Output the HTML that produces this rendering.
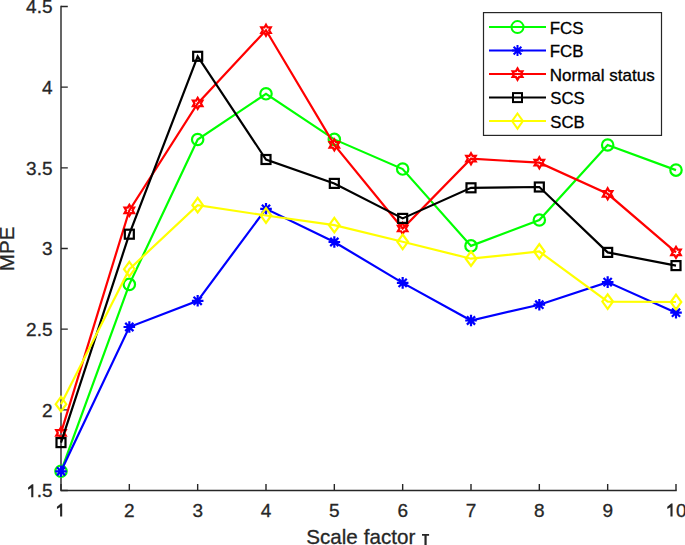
<!DOCTYPE html>
<html><head><meta charset="utf-8"><style>
html,body{margin:0;padding:0;background:#fff;width:685px;height:545px;overflow:hidden}
svg{display:block;font-family:"Liberation Sans",sans-serif}
text{stroke-width:0.3px;paint-order:stroke}
.a{stroke:#262626} .b{stroke:#000}
</style></head><body>
<svg width="685" height="545" viewBox="0 0 685 545">
<rect width="685" height="545" fill="#fff"/>
<path d="M61.0 6.5V490.5H676.0" fill="none" stroke="#262626" stroke-width="1.4" stroke-linecap="square"/>
<path d="M61.00 490.5V483.9M129.33 490.5V483.9M197.67 490.5V483.9M266.00 490.5V483.9M334.33 490.5V483.9M402.67 490.5V483.9M471.00 490.5V483.9M539.33 490.5V483.9M607.67 490.5V483.9M676.00 490.5V483.9M61.0 6.50H67.8M61.0 87.17H67.8M61.0 167.83H67.8M61.0 248.50H67.8M61.0 329.17H67.8M61.0 409.83H67.8M61.0 490.50H67.8" fill="none" stroke="#262626" stroke-width="1.4"/>
<text x="129.33" y="516.6" font-size="19" class="a" fill="#262626" text-anchor="middle">2</text>
<text x="197.67" y="516.6" font-size="19" class="a" fill="#262626" text-anchor="middle">3</text>
<text x="266.00" y="516.6" font-size="19" class="a" fill="#262626" text-anchor="middle">4</text>
<text x="334.33" y="516.6" font-size="19" class="a" fill="#262626" text-anchor="middle">5</text>
<text x="402.67" y="516.6" font-size="19" class="a" fill="#262626" text-anchor="middle">6</text>
<text x="471.00" y="516.6" font-size="19" class="a" fill="#262626" text-anchor="middle">7</text>
<text x="539.33" y="516.6" font-size="19" class="a" fill="#262626" text-anchor="middle">8</text>
<text x="607.67" y="516.6" font-size="19" class="a" fill="#262626" text-anchor="middle">9</text>
<path d="M62.20 503.40 L62.20 516.60 L60.10 516.60 L60.10 507.30 L56.95 508.90 L56.95 506.70 L60.85 503.40 Z" fill="#262626"/>
<text x="676.00" y="516.6" font-size="19" class="a" fill="#262626" text-anchor="middle"> 0</text>
<path d="M672.55 503.40 L672.55 516.60 L670.45 516.60 L670.45 507.30 L667.30 508.90 L667.30 506.70 L671.20 503.40 Z" fill="#262626"/>
<text x="52.5" y="13.35" font-size="19" class="a" fill="#262626" text-anchor="end">4.5</text>
<text x="52.5" y="94.02" font-size="19" class="a" fill="#262626" text-anchor="end">4</text>
<text x="52.5" y="174.68" font-size="19" class="a" fill="#262626" text-anchor="end">3.5</text>
<text x="52.5" y="255.35" font-size="19" class="a" fill="#262626" text-anchor="end">3</text>
<text x="52.5" y="336.02" font-size="19" class="a" fill="#262626" text-anchor="end">2.5</text>
<text x="52.5" y="416.68" font-size="19" class="a" fill="#262626" text-anchor="end">2</text>
<text x="52.5" y="497.35" font-size="19" class="a" fill="#262626" text-anchor="end"> .5</text>
<path d="M33.35 484.15 L33.35 497.35 L31.25 497.35 L31.25 488.05 L28.10 489.65 L28.10 487.45 L32.00 484.15 Z" fill="#262626"/>
<text x="306.2" y="544" font-size="20.6" class="a" fill="#262626">Scale</text>
<text x="363.85" y="544" font-size="20.6" class="a" fill="#262626">factor</text>
<path d="M422 534h7.1v1.8h-2.45V545h-2.2V535.8H422z" fill="#262626"/>
<text transform="translate(14.3,271.2) rotate(-90)" x="0" y="0" font-size="20.6" class="a" fill="#262626">MPE</text>
<polyline points="61.00,471.30 129.33,284.40 197.67,139.50 266.00,93.80 334.33,139.40 402.67,169.05 471.00,245.90 539.33,220.00 607.67,145.00 676.00,170.10" fill="none" stroke="#00ff00" stroke-width="2.2" stroke-miterlimit="10"/>
<circle cx="61.00" cy="471.30" r="5.7" fill="none" stroke="#00ff00" stroke-width="2.2"/>
<circle cx="129.33" cy="284.40" r="5.7" fill="none" stroke="#00ff00" stroke-width="2.2"/>
<circle cx="197.67" cy="139.50" r="5.7" fill="none" stroke="#00ff00" stroke-width="2.2"/>
<circle cx="266.00" cy="93.80" r="5.7" fill="none" stroke="#00ff00" stroke-width="2.2"/>
<circle cx="334.33" cy="139.40" r="5.7" fill="none" stroke="#00ff00" stroke-width="2.2"/>
<circle cx="402.67" cy="169.05" r="5.7" fill="none" stroke="#00ff00" stroke-width="2.2"/>
<circle cx="471.00" cy="245.90" r="5.7" fill="none" stroke="#00ff00" stroke-width="2.2"/>
<circle cx="539.33" cy="220.00" r="5.7" fill="none" stroke="#00ff00" stroke-width="2.2"/>
<circle cx="607.67" cy="145.00" r="5.7" fill="none" stroke="#00ff00" stroke-width="2.2"/>
<circle cx="676.00" cy="170.10" r="5.7" fill="none" stroke="#00ff00" stroke-width="2.2"/>
<polyline points="61.00,471.30 129.33,327.00 197.67,300.80 266.00,208.80 334.33,242.00 402.67,282.90 471.00,320.50 539.33,304.70 607.67,282.10 676.00,312.70" fill="none" stroke="#0000ff" stroke-width="2.2" stroke-miterlimit="10"/>
<path d="M55.20 471.30H66.80M61.00 465.50V477.10M56.90 467.20L65.10 475.40M56.90 475.40L65.10 467.20" fill="none" stroke="#0000ff" stroke-width="2.2"/>
<path d="M123.53 327.00H135.13M129.33 321.20V332.80M125.23 322.90L133.43 331.10M125.23 331.10L133.43 322.90" fill="none" stroke="#0000ff" stroke-width="2.2"/>
<path d="M191.87 300.80H203.47M197.67 295.00V306.60M193.57 296.70L201.77 304.90M193.57 304.90L201.77 296.70" fill="none" stroke="#0000ff" stroke-width="2.2"/>
<path d="M260.20 208.80H271.80M266.00 203.00V214.60M261.90 204.70L270.10 212.90M261.90 212.90L270.10 204.70" fill="none" stroke="#0000ff" stroke-width="2.2"/>
<path d="M328.53 242.00H340.13M334.33 236.20V247.80M330.23 237.90L338.43 246.10M330.23 246.10L338.43 237.90" fill="none" stroke="#0000ff" stroke-width="2.2"/>
<path d="M396.87 282.90H408.47M402.67 277.10V288.70M398.57 278.80L406.77 287.00M398.57 287.00L406.77 278.80" fill="none" stroke="#0000ff" stroke-width="2.2"/>
<path d="M465.20 320.50H476.80M471.00 314.70V326.30M466.90 316.40L475.10 324.60M466.90 324.60L475.10 316.40" fill="none" stroke="#0000ff" stroke-width="2.2"/>
<path d="M533.53 304.70H545.13M539.33 298.90V310.50M535.23 300.60L543.43 308.80M535.23 308.80L543.43 300.60" fill="none" stroke="#0000ff" stroke-width="2.2"/>
<path d="M601.87 282.10H613.47M607.67 276.30V287.90M603.57 278.00L611.77 286.20M603.57 286.20L611.77 278.00" fill="none" stroke="#0000ff" stroke-width="2.2"/>
<path d="M670.20 312.70H681.80M676.00 306.90V318.50M671.90 308.60L680.10 316.80M671.90 316.80L680.10 308.60" fill="none" stroke="#0000ff" stroke-width="2.2"/>
<polyline points="61.00,432.90 129.33,210.40 197.67,103.40 266.00,30.20 334.33,144.90 402.67,228.50 471.00,158.70 539.33,162.70 607.67,193.80 676.00,252.40" fill="none" stroke="#ff0000" stroke-width="2.2" stroke-miterlimit="10"/>
<polygon points="61.00,427.40 62.59,430.15 65.76,430.15 64.18,432.90 65.76,435.65 62.59,435.65 61.00,438.40 59.41,435.65 56.24,435.65 57.82,432.90 56.24,430.15 59.41,430.15" fill="none" stroke="#ff0000" stroke-width="2.2" stroke-miterlimit="10"/>
<polygon points="129.33,204.90 130.92,207.65 134.10,207.65 132.51,210.40 134.10,213.15 130.92,213.15 129.33,215.90 127.75,213.15 124.57,213.15 126.16,210.40 124.57,207.65 127.75,207.65" fill="none" stroke="#ff0000" stroke-width="2.2" stroke-miterlimit="10"/>
<polygon points="197.67,97.90 199.25,100.65 202.43,100.65 200.84,103.40 202.43,106.15 199.25,106.15 197.67,108.90 196.08,106.15 192.90,106.15 194.49,103.40 192.90,100.65 196.08,100.65" fill="none" stroke="#ff0000" stroke-width="2.2" stroke-miterlimit="10"/>
<polygon points="266.00,24.70 267.59,27.45 270.76,27.45 269.18,30.20 270.76,32.95 267.59,32.95 266.00,35.70 264.41,32.95 261.24,32.95 262.82,30.20 261.24,27.45 264.41,27.45" fill="none" stroke="#ff0000" stroke-width="2.2" stroke-miterlimit="10"/>
<polygon points="334.33,139.40 335.92,142.15 339.10,142.15 337.51,144.90 339.10,147.65 335.92,147.65 334.33,150.40 332.75,147.65 329.57,147.65 331.16,144.90 329.57,142.15 332.75,142.15" fill="none" stroke="#ff0000" stroke-width="2.2" stroke-miterlimit="10"/>
<polygon points="402.67,223.00 404.25,225.75 407.43,225.75 405.84,228.50 407.43,231.25 404.25,231.25 402.67,234.00 401.08,231.25 397.90,231.25 399.49,228.50 397.90,225.75 401.08,225.75" fill="none" stroke="#ff0000" stroke-width="2.2" stroke-miterlimit="10"/>
<polygon points="471.00,153.20 472.59,155.95 475.76,155.95 474.18,158.70 475.76,161.45 472.59,161.45 471.00,164.20 469.41,161.45 466.24,161.45 467.82,158.70 466.24,155.95 469.41,155.95" fill="none" stroke="#ff0000" stroke-width="2.2" stroke-miterlimit="10"/>
<polygon points="539.33,157.20 540.92,159.95 544.10,159.95 542.51,162.70 544.10,165.45 540.92,165.45 539.33,168.20 537.75,165.45 534.57,165.45 536.16,162.70 534.57,159.95 537.75,159.95" fill="none" stroke="#ff0000" stroke-width="2.2" stroke-miterlimit="10"/>
<polygon points="607.67,188.30 609.25,191.05 612.43,191.05 610.84,193.80 612.43,196.55 609.25,196.55 607.67,199.30 606.08,196.55 602.90,196.55 604.49,193.80 602.90,191.05 606.08,191.05" fill="none" stroke="#ff0000" stroke-width="2.2" stroke-miterlimit="10"/>
<polygon points="676.00,246.90 677.59,249.65 680.76,249.65 679.18,252.40 680.76,255.15 677.59,255.15 676.00,257.90 674.41,255.15 671.24,255.15 672.82,252.40 671.24,249.65 674.41,249.65" fill="none" stroke="#ff0000" stroke-width="2.2" stroke-miterlimit="10"/>
<polyline points="61.00,442.60 129.33,234.20 197.67,56.30 266.00,159.50 334.33,183.40 402.67,218.40 471.00,187.80 539.33,187.00 607.67,252.40 676.00,265.60" fill="none" stroke="#000000" stroke-width="2.2" stroke-miterlimit="10"/>
<rect x="56.50" y="438.10" width="9.00" height="9.00" fill="none" stroke="#000000" stroke-width="2.2"/>
<rect x="124.83" y="229.70" width="9.00" height="9.00" fill="none" stroke="#000000" stroke-width="2.2"/>
<rect x="193.17" y="51.80" width="9.00" height="9.00" fill="none" stroke="#000000" stroke-width="2.2"/>
<rect x="261.50" y="155.00" width="9.00" height="9.00" fill="none" stroke="#000000" stroke-width="2.2"/>
<rect x="329.83" y="178.90" width="9.00" height="9.00" fill="none" stroke="#000000" stroke-width="2.2"/>
<rect x="398.17" y="213.90" width="9.00" height="9.00" fill="none" stroke="#000000" stroke-width="2.2"/>
<rect x="466.50" y="183.30" width="9.00" height="9.00" fill="none" stroke="#000000" stroke-width="2.2"/>
<rect x="534.83" y="182.50" width="9.00" height="9.00" fill="none" stroke="#000000" stroke-width="2.2"/>
<rect x="603.17" y="247.90" width="9.00" height="9.00" fill="none" stroke="#000000" stroke-width="2.2"/>
<rect x="671.50" y="261.10" width="9.00" height="9.00" fill="none" stroke="#000000" stroke-width="2.2"/>
<polyline points="61.00,404.20 129.33,269.20 197.67,205.20 266.00,215.50 334.33,225.20 402.67,241.80 471.00,258.70 539.33,251.50 607.67,301.60 676.00,302.00" fill="none" stroke="#ffff00" stroke-width="2.2" stroke-miterlimit="10"/>
<polygon points="61.00,396.90 66.30,404.20 61.00,411.50 55.70,404.20" fill="none" stroke="#ffff00" stroke-width="2.2" stroke-miterlimit="10"/>
<polygon points="129.33,261.90 134.63,269.20 129.33,276.50 124.03,269.20" fill="none" stroke="#ffff00" stroke-width="2.2" stroke-miterlimit="10"/>
<polygon points="197.67,197.90 202.97,205.20 197.67,212.50 192.37,205.20" fill="none" stroke="#ffff00" stroke-width="2.2" stroke-miterlimit="10"/>
<polygon points="266.00,208.20 271.30,215.50 266.00,222.80 260.70,215.50" fill="none" stroke="#ffff00" stroke-width="2.2" stroke-miterlimit="10"/>
<polygon points="334.33,217.90 339.63,225.20 334.33,232.50 329.03,225.20" fill="none" stroke="#ffff00" stroke-width="2.2" stroke-miterlimit="10"/>
<polygon points="402.67,234.50 407.97,241.80 402.67,249.10 397.37,241.80" fill="none" stroke="#ffff00" stroke-width="2.2" stroke-miterlimit="10"/>
<polygon points="471.00,251.40 476.30,258.70 471.00,266.00 465.70,258.70" fill="none" stroke="#ffff00" stroke-width="2.2" stroke-miterlimit="10"/>
<polygon points="539.33,244.20 544.63,251.50 539.33,258.80 534.03,251.50" fill="none" stroke="#ffff00" stroke-width="2.2" stroke-miterlimit="10"/>
<polygon points="607.67,294.30 612.97,301.60 607.67,308.90 602.37,301.60" fill="none" stroke="#ffff00" stroke-width="2.2" stroke-miterlimit="10"/>
<polygon points="676.00,294.70 681.30,302.00 676.00,309.30 670.70,302.00" fill="none" stroke="#ffff00" stroke-width="2.2" stroke-miterlimit="10"/>
<rect x="483.5" y="12.6" width="178" height="122.8" fill="#fff" stroke="#262626" stroke-width="1.2"/>
<line x1="489" y1="27.10" x2="546" y2="27.10" stroke="#00ff00" stroke-width="2.0"/>
<circle cx="517.50" cy="27.10" r="6.0" fill="none" stroke="#00ff00" stroke-width="2.0"/>
<text transform="translate(549.71,33.80) scale(1.03,1)" font-size="16.4" class="b" fill="#000">FCS</text>
<line x1="489" y1="50.60" x2="546" y2="50.60" stroke="#0000ff" stroke-width="2.0"/>
<path d="M512.00 50.60H523.00M517.50 45.10V56.10M513.61 46.71L521.39 54.49M513.61 54.49L521.39 46.71" fill="none" stroke="#0000ff" stroke-width="2.0"/>
<text transform="translate(549.71,57.30) scale(1.03,1)" font-size="16.4" class="b" fill="#000">FCB</text>
<line x1="489" y1="74.10" x2="546" y2="74.10" stroke="#ff0000" stroke-width="2.0"/>
<polygon points="517.50,68.40 519.15,71.25 522.44,71.25 520.79,74.10 522.44,76.95 519.15,76.95 517.50,79.80 515.85,76.95 512.56,76.95 514.21,74.10 512.56,71.25 515.85,71.25" fill="none" stroke="#ff0000" stroke-width="2.2" stroke-miterlimit="10"/>
<text transform="translate(549.70,80.80) scale(1.039,1)" font-size="16.4" class="b" fill="#000">Normal status</text>
<line x1="489" y1="97.60" x2="546" y2="97.60" stroke="#000000" stroke-width="2.0"/>
<rect x="513.00" y="93.10" width="9.00" height="9.00" fill="none" stroke="#000000" stroke-width="2.0"/>
<text transform="translate(550.24,104.30) scale(1.02,1)" font-size="16.4" class="b" fill="#000">SCS</text>
<line x1="489" y1="121.10" x2="546" y2="121.10" stroke="#ffff00" stroke-width="2.0"/>
<polygon points="517.50,113.50 522.90,121.10 517.50,128.70 512.10,121.10" fill="none" stroke="#ffff00" stroke-width="2.0" stroke-miterlimit="10"/>
<text transform="translate(550.24,127.80) scale(1.02,1)" font-size="16.4" class="b" fill="#000">SCB</text>
</svg></body></html>
